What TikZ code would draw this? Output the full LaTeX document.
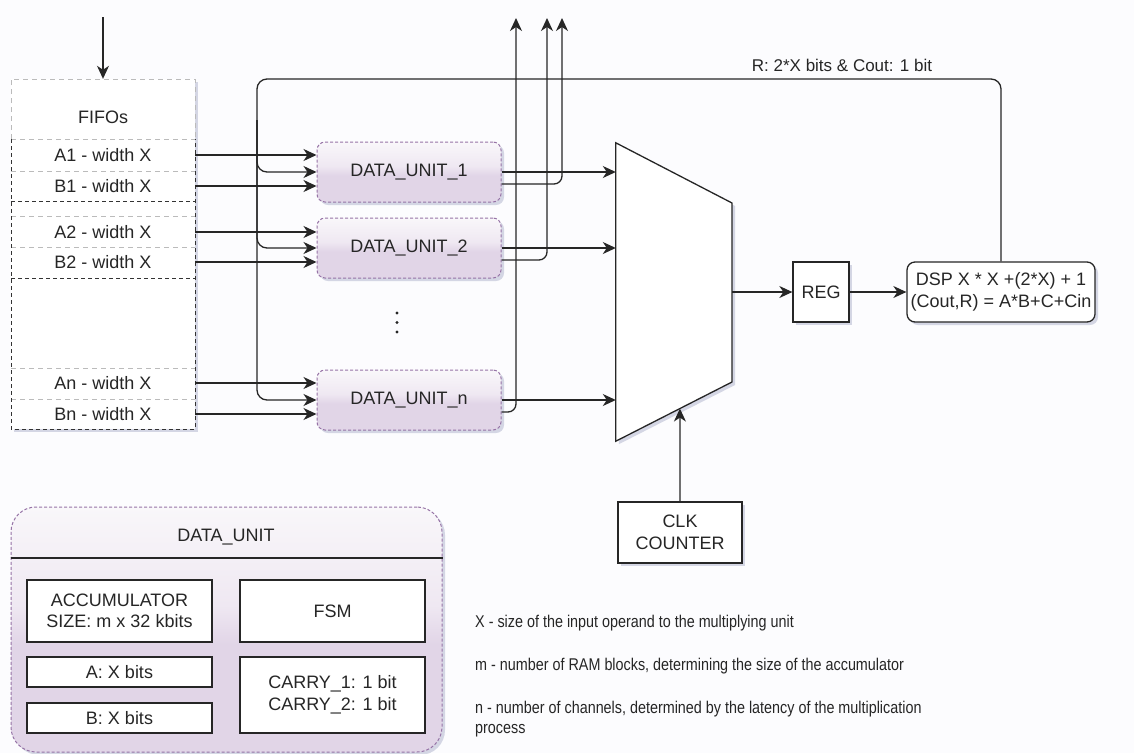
\documentclass[tikz,border=0pt]{standalone}
\usepackage{fontspec}
\setmainfont{Liberation Sans}
\usepackage{graphicx}
\usetikzlibrary{arrows.meta,shadows,calc}
\definecolor{dufill}{HTML}{E1D5E7}
\definecolor{dulight}{HTML}{EFE8F2}
\definecolor{dutop}{HTML}{F9F7FA}
\definecolor{duline}{HTML}{9673A6}
\definecolor{shadowc}{HTML}{7880A8}
\definecolor{fifolight}{HTML}{BBBBBB}
\definecolor{bgc}{HTML}{FCFCFE}
\pgfdeclareverticalshading{glass}{100bp}{color(0bp)=(dufill); color(25bp)=(dufill); color(47bp)=(dufill); color(55bp)=(dulight); color(75bp)=(dutop); color(100bp)=(dutop)}
\tikzset{
  base/.style={font=\fontsize{18}{21.5}\selectfont, align=center, text=black!85},
  conn/.style={line width=1.3pt, draw=black!85},
  arr/.style={conn, -{Stealth[length=13pt,width=12pt,inset=4pt]}},
  shad/.style={drop shadow={shadow xshift=3pt, shadow yshift=-3pt, fill=shadowc, opacity=0.3}},
  dubox/.style={base, shading=glass, draw=duline, dash pattern=on 3pt off 2pt, line width=1pt,
    rounded corners=8pt, minimum width=184pt, minimum height=60pt, inner sep=0pt, shad},
  plainbox/.style={base, draw=black!85, fill=white, line width=1.3pt, inner sep=0pt, shad},
  innerbox/.style={base, draw=black!85, fill=white, line width=1.3pt, inner sep=0pt, minimum width=185pt},
  rowlbl/.style={base, minimum width=184pt, minimum height=30pt, inner sep=0pt},
  lightdash/.style={draw=fifolight, line width=0.9pt, dash pattern=on 5pt off 4pt},
  darkdash/.style={draw=black!80, line width=1pt, dash pattern=on 4pt off 3pt},
  legend/.style={font=\fontsize{17}{22}\selectfont, align=left, text=black!85, inner sep=0pt, anchor=west},
  lbl/.style={font=\fontsize{17}{20}\selectfont, text=black!85, inner sep=0pt}
}
\begin{document}
\begin{tikzpicture}[x=1pt,y=-1pt]
\useasboundingbox (0,0) rectangle (1134,753);
\fill[bgc] (0,0) rectangle (1134,753);

% ---------- FIFO block ----------
\node[fill=white, shad, minimum width=184pt, minimum height=350pt, inner sep=0pt] (fifo) at (103,254) {};
\draw[lightdash] (11,139) -- (11,79) -- (195,79) -- (195,139);
\foreach \yy in {139,171,216,247,368,399} \draw[lightdash] (11,\yy) -- (195,\yy);
\draw[darkdash] (11,139) -- (11,429) -- (195,429) -- (195,139);
\draw[darkdash] (11,201) -- (195,201);
\draw[darkdash] (11,278) -- (195,278);
\node[base] (fifohdr) at (103,117) {FIFOs};
\node[rowlbl] (a1) at (103,155) {A1 - width X};
\node[rowlbl] (b1) at (103,186) {B1 - width X};
\node[rowlbl] (a2) at (103,232) {A2 - width X};
\node[rowlbl] (b2) at (103,262) {B2 - width X};
\node[rowlbl] (an) at (103,383) {An - width X};
\node[rowlbl] (bn) at (103,414) {Bn - width X};
\coordinate (topin) at (103,17);
\draw[arr] (topin) -- (fifo.north);

% ---------- data units ----------
\node[dubox] (du1) at (409,172) {DATA\_UNIT\_1};
\node[dubox] (du2) at (409,248) {DATA\_UNIT\_2};
\node[dubox] (dun) at (409,400) {DATA\_UNIT\_n};
\foreach \yy in {313,322.5,332} \fill[black!85] (397,\yy) circle (1.7pt);

\foreach \a/\b/\d in {a1/b1/du1, a2/b2/du2, an/bn/dun}{
  \draw[arr] (\a.east) -- (\a.east -| \d.west);
  \draw[arr] (\b.east) -- (\b.east -| \d.west);
}

% ---------- mux, reg, dsp ----------
\node[minimum width=116pt, minimum height=298pt, inner sep=0pt] (mux) at (674,292) {};
\coordinate (muxtl) at (mux.north west);
\coordinate (muxbl) at (mux.south west);
\coordinate (muxtr) at (732,203);
\coordinate (muxbr) at (732,382);
\draw[conn, fill=white, shad] (muxtl) -- (muxtr) -- (muxbr) -- (muxbl) -- cycle;

\node[plainbox, minimum width=56pt, minimum height=60pt] (reg) at (821,292) {REG};
\node[plainbox, rounded corners=8pt, minimum width=188pt, minimum height=60pt] (dsp) at (1001,292)
  {DSP X * X +(2*X) + 1\\(Cout,R) = A*B+C+Cin};
\node[plainbox, minimum width=124pt, minimum height=61pt] (clk) at (680,532.5) {CLK\\COUNTER};

\draw[arr] (du1.east) -- (du1.east -| mux.west);
\draw[arr] (du2.east) -- (du2.east -| mux.west);
\draw[arr] (dun.east) -- (dun.east -| mux.west);
\draw[arr] (mux.east) -- (reg.west);
\draw[arr] (reg.east) -- (dsp.west);
\coordinate (clkin) at ($(muxbl)!{64/116}!(muxbr)$);
\draw[arr] (clk.north) -- (clkin);

% ---------- upward outputs ----------
\coordinate (up1) at (562,18);
\coordinate (up2) at (547,18);
\coordinate (upn) at (516,18);
\draw[arr, rounded corners=8pt] ($(du1.east)+(0,12)$) -| (up1);
\draw[arr, rounded corners=8pt] ($(du2.east)+(0,12)$) -| (up2);
\draw[arr, rounded corners=8pt] ($(dun.east)+(0,12)$) -| (upn);

% ---------- feedback ----------
\coordinate (fbcorner) at (257,79);
\coordinate (fbv) at (257,120);
\draw[arr, rounded corners=10pt] (dsp.north) |- (fbcorner) |- (du1.west);
\draw[arr, rounded corners=10pt] (fbv) |- (du2.west);
\draw[arr, rounded corners=10pt] (fbv) |- (dun.west);
\node[lbl] (rlab) at (842,65) {R: 2*X bits \& Cout: 1 bit};

% ---------- DATA_UNIT detail ----------
\node[shading=glass, draw=duline, dash pattern=on 3pt off 2pt, line width=1pt, rounded corners=25pt,
  minimum width=431pt, minimum height=245pt, inner sep=0pt, shad] (dunit) at (226.5,629.5) {};
\node[base] (dutitle) at (226,537) {DATA\_UNIT};
\coordinate (sepy) at (0,558);
\draw[line width=1.8pt, black!85] (dunit.west |- sepy) -- (dunit.east |- sepy);
\node[innerbox, minimum height=62pt] (acc) at (119.5,611) {ACCUMULATOR\\SIZE: m x 32 kbits};
\node[innerbox, minimum height=62pt] (fsm) at (332.5,611) {FSM};
\node[innerbox, minimum height=30pt] (abits) at (119.5,672) {A: X bits};
\node[innerbox, minimum height=30pt] (bbits) at (119.5,718) {B: X bits};
\node[innerbox, minimum height=76pt] (carry) at (332.5,695) {CARRY\_1: 1 bit\\CARRY\_2: 1 bit};

% ---------- legend ----------
\node[legend] (lx) at (475,623) {\scalebox{0.845}[1]{X - size of the input operand to the multiplying unit}};
\node[legend] (lm) at (475,666) {\scalebox{0.845}[1]{m - number of RAM blocks, determining the size of the accumulator}};
\node[legend] (ln) at (475,719) {\scalebox{0.845}[1]{\begin{tabular}{@{}l@{}}n - number of channels, determined by the latency of the multiplication\\[-1.5pt]process\end{tabular}}};
\end{tikzpicture}
\end{document}
